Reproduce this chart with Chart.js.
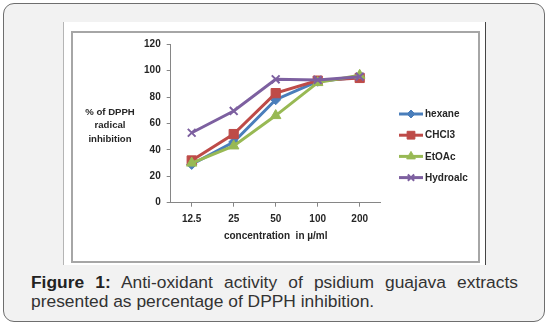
<!DOCTYPE html>
<html>
<head>
<meta charset="utf-8">
<script src="https://cdn.jsdelivr.net/npm/chart.js@4"></script>
<style>
  html, body { margin: 0; padding: 0; background: #fff; }
  body { width: 548px; height: 327px; position: relative; overflow: hidden; font-family: "Liberation Sans", Arial, sans-serif; }
  #panel { position: absolute; left: 3px; top: 3px; width: 542px; height: 319px; box-sizing: border-box;
           border: 1px solid #6e6e6e; border-radius: 11px; background: #f2f2f2; }
  #img { position: absolute; left: 63px; top: 22px; width: 423px; height: 243px; box-sizing: border-box;
         background: #fff; border-left: 1px solid #b5b5b5; border-right: 1px solid #444; }
  #frame { position: absolute; left: 71px; top: 31px; width: 409px; height: 232px; box-sizing: border-box;
           border: 2px solid #a6a6a6; }
  #wrap { position: absolute; left: 63px; top: 22px; width: 423px; height: 243px; }
  #caption { position: absolute; left: 31px; top: 273px; width: 487px; font-size: 17.4px; line-height: 19px;
             color: #333; text-align: justify; }
  #caption b { color: #222; }
</style>
</head>
<body>
<div id="panel"></div>
<div id="img"></div>
<div id="frame"></div>
<div id="wrap"><canvas id="chart" width="423" height="243"></canvas></div>
<div id="caption"><b>Figure 1:</b> Anti-oxidant activity of psidium guajava extracts presented as percentage of DPPH inhibition.</div>
<script>
const concentrations = ['12.5', '25', '50', '100', '200'];
const hexane = [29, 46, 78, 92, 95];
const chcl3 = [32, 52, 83, 92.5, 94.5];
const etoac = [30, 43, 66, 91, 96.5];
const hydroalc = [53, 69.5, 93.5, 93, 95.5];
const yTicks = [0, 20, 40, 60, 80, 100, 120];
const yTitle = ['% of DPPH', 'radical', 'inhibition'];
const xTitle = 'concentration  in µ/ml';

const TEXT = '#262626';
const AXIS = '#868686';
const FONT = "'Liberation Sans', Arial, sans-serif";

function series(label, data, color, style, radius, order) {
    return {
        label, data, order,
        borderColor: color,
        backgroundColor: color,
        borderWidth: 3,
        pointStyle: style,
        pointRadius: radius,
        pointBorderWidth: style === 'crossRot' ? 2 : 1,
        pointBackgroundColor: color,
        pointBorderColor: color,
        tension: 0,
    };
}

// y title drawn horizontally, legend with line + marker like Excel
const extras = {
    id: 'extras',
    afterDraw(chart) {
        const ctx = chart.ctx;
        ctx.save();
        ctx.fillStyle = TEXT;
        ctx.font = 'bold 9.6px ' + FONT;
        ctx.textAlign = 'center';
        ctx.textBaseline = 'middle';
        yTitle.forEach((t, i) => ctx.fillText(t, 47, 90 + i * 13.8));

        ctx.textAlign = 'left';
        ctx.font = 'bold 10px ' + FONT;
        chart.data.datasets.forEach((ds, i) => {
            const y = 92 + i * 21.2;
            ctx.strokeStyle = ds.borderColor;
            ctx.fillStyle = ds.backgroundColor;
            ctx.lineWidth = 3;
            ctx.beginPath();
            ctx.moveTo(336, y);
            ctx.lineTo(360, y);
            ctx.stroke();
            ctx.lineWidth = ds.pointBorderWidth;
            Chart.helpers.drawPoint(ctx, {
                pointStyle: ds.pointStyle,
                radius: ds.pointRadius - 1,
                rotation: 0,
                borderWidth: ds.pointBorderWidth,
            }, 348, y);
            ctx.fillStyle = TEXT;
            ctx.fillText(ds.label, 362, y + 0.5);
        });
        ctx.restore();
    }
};

new Chart(document.getElementById('chart'), {
    type: 'line',
    data: {
        labels: concentrations,
        datasets: [
            series('hexane', hexane, '#4a7ebb', 'rectRot', 5, 4),
            series('CHCl3', chcl3, '#be4b48', 'rect', 6.5, 3),
            series('EtOAc', etoac, '#98b954', 'triangle', 6, 2),
            series('Hydroalc', hydroalc, '#7d60a0', 'crossRot', 5.5, 1),
        ],
    },
    options: {
        responsive: false,
        animation: false,
        devicePixelRatio: 1,
        layout: { padding: { left: 0, top: 22.3, right: 105.3, bottom: 0 } },
        plugins: { legend: { display: false }, tooltip: { enabled: false } },
        scales: {
            x: {
                offset: true,
                grid: { display: true, drawOnChartArea: false, drawTicks: true, tickLength: 4, color: AXIS },
                border: { display: true, color: AXIS, width: 1 },
                ticks: { color: TEXT, padding: 7, font: { family: FONT, size: 10, weight: 'bold' } },
                title: {
                    display: true, text: xTitle, color: TEXT,
                    font: { family: FONT, size: 10, weight: 'bold' },
                    padding: { top: 0, bottom: 23 },
                },
                afterFit(scale) { scale.height = 62.3; },
            },
            y: {
                min: 0, max: 120,
                afterBuildTicks(scale) { scale.ticks = yTicks.map(v => ({ value: v })); },
                grid: { display: true, drawOnChartArea: false, drawTicks: true, tickLength: 4, color: AXIS },
                border: { display: true, color: AXIS, width: 1 },
                ticks: { color: TEXT, padding: 6, font: { family: FONT, size: 10, weight: 'bold' } },
                afterFit(scale) { scale.width = 107.7; },
            },
        },
    },
    plugins: [extras],
});
</script>
</body>
</html>
